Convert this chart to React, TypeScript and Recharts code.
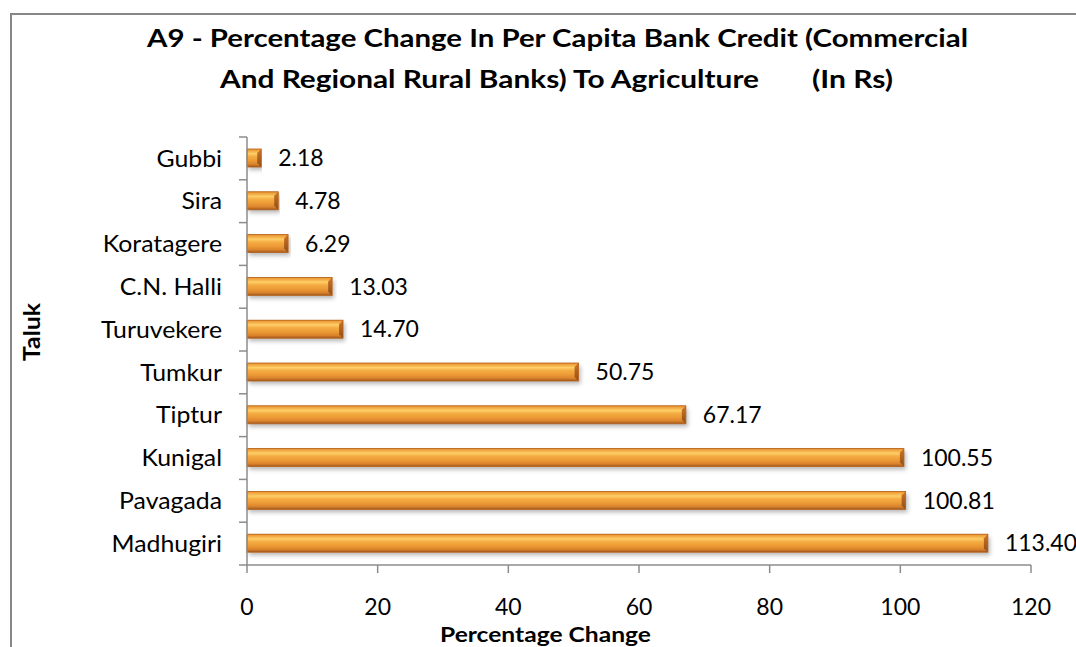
import React from 'react';
import { BarChart, Bar, XAxis, YAxis, LabelList } from 'recharts';

const taluks = ['Gubbi', 'Sira', 'Koratagere', 'C.N. Halli', 'Turuvekere', 'Tumkur', 'Tiptur', 'Kunigal', 'Pavagada', 'Madhugiri'];
const changes = [2.18, 4.78, 6.29, 13.03, 14.7, 50.75, 67.17, 100.55, 100.81, 113.4];
const xTicks = [0, 20, 40, 60, 80, 100, 120];

const titleLine1 = 'A9 - Percentage Change In Per Capita Bank Credit (Commercial';
const titleLine2a = 'And Regional Rural Banks) To Agriculture';
const titleLine2b = '(In Rs)';
const xTitle = 'Percentage Change';
const yTitle = 'Taluk';

const data = taluks.map((name, i) => ({ name, value: changes[i] }));

const FONT = 'Lato, "Open Sans", sans-serif';
const AXIS = '#8c8c8c';
const W = 1076;
const H = 647;
const M_TOP = 137;
const M_BOTTOM = 22;
const X_AXIS_H = 60;
const TICK_SIZE = 8;
const TICK_MARGIN = 17;
const HALF_BAND = (H - M_TOP - M_BOTTOM - X_AXIS_H) / taluks.length / 2;

const CatTick = (props: any) => {
  const { x, y, payload, index } = props;
  const ax = x + TICK_SIZE + TICK_MARGIN;
  const last = index === taluks.length - 1;
  return (
    <g>
      <line x1={ax - TICK_SIZE} x2={ax} y1={y - HALF_BAND} y2={y - HALF_BAND} stroke={AXIS} strokeWidth={1.5} />
      {last && (
        <line x1={ax - TICK_SIZE} x2={ax} y1={y + HALF_BAND} y2={y + HALF_BAND} stroke={AXIS} strokeWidth={1.5} />
      )}
      <text
        transform={`translate(${x},${y}) scale(1.08,1)`}
        textAnchor="end"
        dy="0.36em"
        fontSize={23}
        fontFamily={FONT}
        fill="#000"
      >
        {payload.value}
      </text>
    </g>
  );
};

const BarShape = (props: any) => {
  const { x, y, width, height } = props;
  if (!width || width <= 0) return null;
  const b = Math.min(4, width / 2);
  return (
    <g>
      <rect x={x} y={y} width={width} height={height} fill="url(#barGrad)" filter="url(#barShadow)" />
      <polygon
        points={`${x},${y} ${x + width},${y} ${x + width - b},${y + b} ${x},${y + b}`}
        fill="url(#topBevel)"
      />
      <polygon
        points={`${x + width - b},${y + b} ${x + width},${y} ${x + width},${y + height} ${x + width - b},${y + height - b}`}
        fill="url(#sideBevel)"
      />
      <rect x={x} y={y} width={width} height={height} fill="none" stroke="#b4621e" strokeWidth={0.8} />
    </g>
  );
};

export default function App() {
  return (
    <div style={{ position: 'absolute', left: 0, top: 0, width: W, height: H, background: '#fff', overflow: 'hidden' }}>
      <BarChart
        width={W}
        height={H}
        data={data}
        layout="vertical"
        margin={{ top: M_TOP, right: 45, bottom: M_BOTTOM, left: 0 }}
        barSize={18}
      >
        <defs>
          <linearGradient id="barGrad" x1="0" y1="0" x2="0" y2="1">
            <stop offset="0" stopColor="#e8902c" />
            <stop offset="0.1" stopColor="#f6b24a" />
            <stop offset="0.25" stopColor="#fdd06a" />
            <stop offset="0.42" stopColor="#f5ac42" />
            <stop offset="0.65" stopColor="#ec9a35" />
            <stop offset="0.85" stopColor="#d9822c" />
            <stop offset="1" stopColor="#9e561b" />
          </linearGradient>
          <linearGradient id="topBevel" x1="0" y1="0" x2="0" y2="1">
            <stop offset="0" stopColor="#e8902c" />
            <stop offset="1" stopColor="#fbc35c" />
          </linearGradient>
          <linearGradient id="sideBevel" x1="0" y1="0" x2="0" y2="1">
            <stop offset="0" stopColor="#d07426" />
            <stop offset="1" stopColor="#8f4e18" />
          </linearGradient>
          <filter id="barShadow" x="-5%" y="-30%" width="110%" height="180%">
            <feDropShadow dx="2" dy="3" stdDeviation="2" floodColor="#000" floodOpacity="0.28" />
          </filter>
        </defs>
        <XAxis
          type="number"
          domain={[0, 120]}
          ticks={xTicks}
          interval={0}
          height={X_AXIS_H}
          axisLine={{ stroke: AXIS, strokeWidth: 1.5 }}
          tickLine={{ stroke: AXIS, strokeWidth: 1.5 }}
          tickSize={8}
          tickMargin={26}
          tick={{ fill: '#000', fontSize: 23, fontFamily: FONT }}
        />
        <YAxis
          type="category"
          dataKey="name"
          width={247}
          axisLine={{ stroke: AXIS, strokeWidth: 1.5 }}
          tickLine={false}
          tickSize={TICK_SIZE}
          tickMargin={TICK_MARGIN}
          interval={0}
          tick={<CatTick />}
        />
        <Bar dataKey="value" shape={<BarShape />} isAnimationActive={false}>
          <LabelList
            dataKey="value"
            position="right"
            offset={17}
            formatter={(v: any) => Number(v).toFixed(2)}
            style={{ fill: '#000', fontSize: 23, fontFamily: FONT }}
          />
        </Bar>
      </BarChart>
      <svg width={W} height={H} style={{ position: 'absolute', left: 0, top: 0, pointerEvents: 'none' }}>
        <path d="M11,660 L11,14 L1090,14" fill="none" stroke="#878787" strokeWidth={2} />
        <g fontFamily={FONT} fontWeight="bold" fill="#000">
          <text x={147} y={47} fontSize={25} textLength={821} lengthAdjust="spacingAndGlyphs">{titleLine1}</text>
          <text x={220} y={88} fontSize={25} textLength={539} lengthAdjust="spacingAndGlyphs">{titleLine2a}</text>
          <text x={812} y={88} fontSize={25} textLength={81} lengthAdjust="spacingAndGlyphs">{titleLine2b}</text>
          <text x={440} y={642} fontSize={21} textLength={211} lengthAdjust="spacingAndGlyphs">{xTitle}</text>
          <text x={0} y={0} fontSize={23} textLength={58} lengthAdjust="spacingAndGlyphs" transform="translate(40,361) rotate(-90)">{yTitle}</text>
        </g>
      </svg>
    </div>
  );
}
